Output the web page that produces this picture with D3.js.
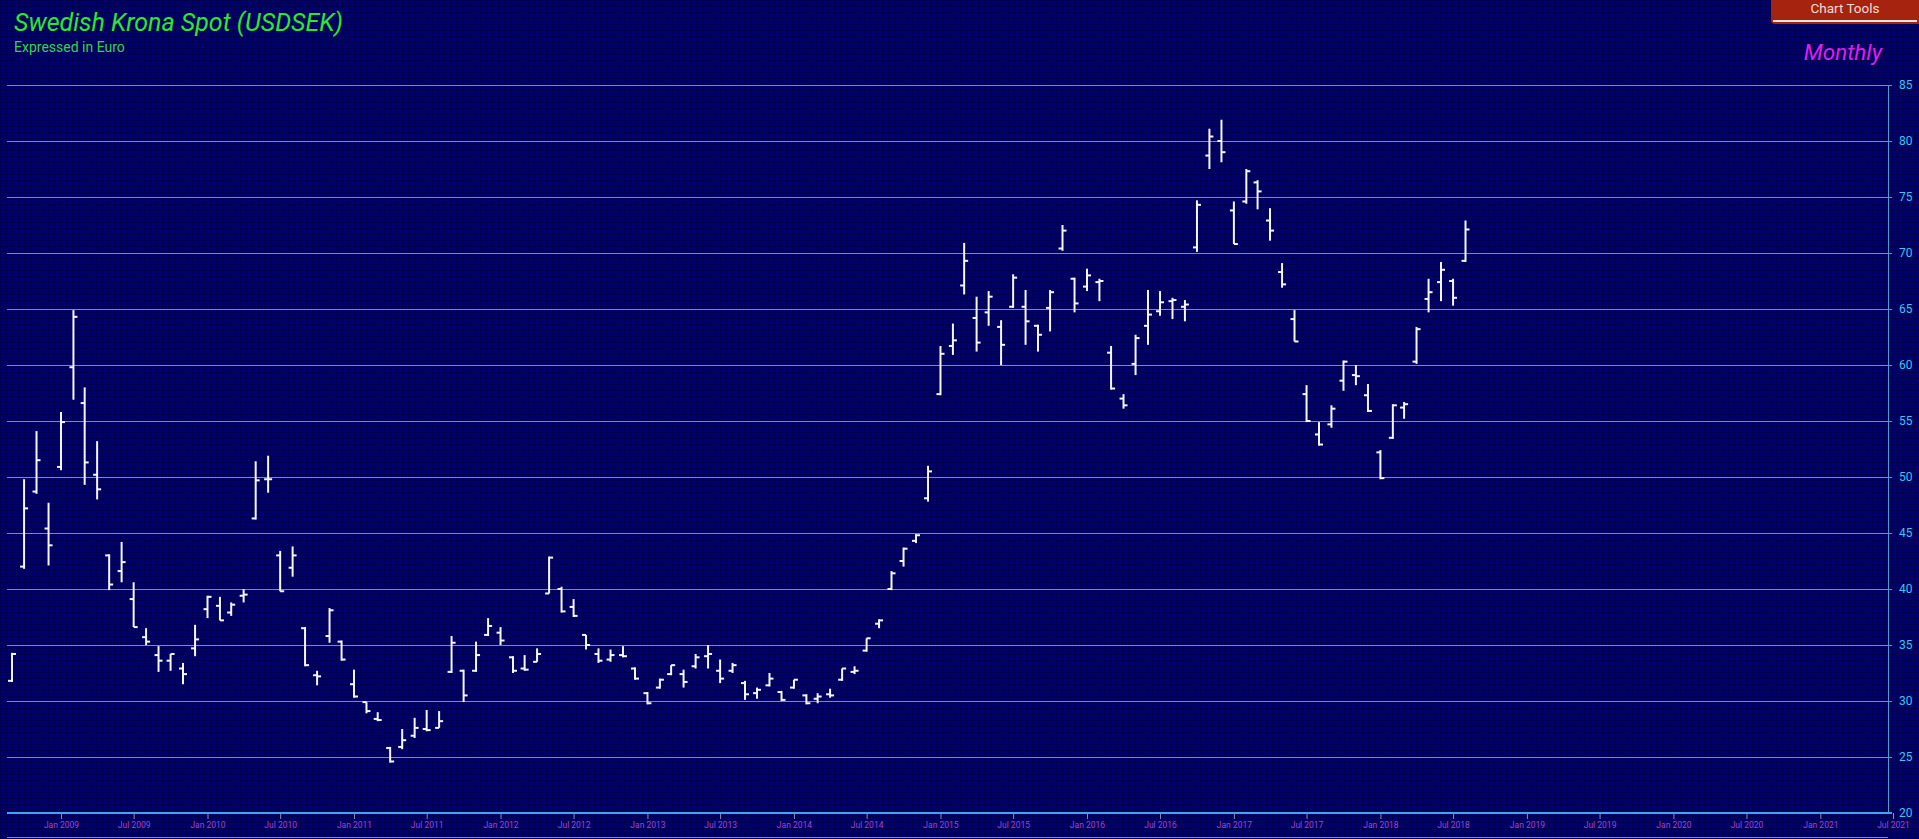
<!DOCTYPE html>
<html><head><meta charset="utf-8">
<script src="https://cdn.jsdelivr.net/npm/d3@7"></script>
<style>html,body{margin:0;padding:0;background:#00005e;overflow:hidden}svg{display:block}</style>
</head><body><svg id="c" width="1919" height="839"></svg>
<script>
const months = ["2008-09","2008-10","2008-11","2008-12",
"2009-01","2009-02","2009-03","2009-04","2009-05","2009-06","2009-07","2009-08","2009-09","2009-10","2009-11","2009-12",
"2010-01","2010-02","2010-03","2010-04","2010-05","2010-06","2010-07","2010-08","2010-09","2010-10","2010-11","2010-12",
"2011-01","2011-02","2011-03","2011-04","2011-05","2011-06","2011-07","2011-08","2011-09","2011-10","2011-11","2011-12",
"2012-01","2012-02","2012-03","2012-04","2012-05","2012-06","2012-07","2012-08","2012-09","2012-10","2012-11","2012-12",
"2013-01","2013-02","2013-03","2013-04","2013-05","2013-06","2013-07","2013-08","2013-09","2013-10","2013-11","2013-12",
"2014-01","2014-02","2014-03","2014-04","2014-05","2014-06","2014-07","2014-08","2014-09","2014-10","2014-11","2014-12",
"2015-01","2015-02","2015-03","2015-04","2015-05","2015-06","2015-07","2015-08","2015-09","2015-10","2015-11","2015-12",
"2016-01","2016-02","2016-03","2016-04","2016-05","2016-06","2016-07","2016-08","2016-09","2016-10","2016-11","2016-12",
"2017-01","2017-02","2017-03","2017-04","2017-05","2017-06","2017-07","2017-08","2017-09","2017-10","2017-11","2017-12",
"2018-01","2018-02","2018-03","2018-04","2018-05","2018-06","2018-07","2018-08"];
const openV = [31.8,42.0,48.7,45.4,
50.9,59.8,56.6,50.2,43.0,41.6,39.1,35.7,34.1,33.6,32.9,34.7,
38.2,38.5,37.9,39.4,46.3,49.8,43.0,41.9,36.5,32.3,35.8,35.3,
31.5,29.9,28.4,25.8,25.9,26.9,27.5,27.6,32.6,32.7,32.7,35.9,
36.1,33.9,32.9,33.5,39.6,40.0,38.4,35.9,34.2,33.7,34.1,32.9,
30.7,31.2,32.4,32.4,33.1,34.0,32.7,32.7,31.6,30.7,31.4,30.8,
31.2,30.5,30.2,30.6,31.9,32.6,34.5,36.9,40.0,42.5,44.3,48.1,
57.4,61.7,67.1,64.2,64.7,63.4,65.2,65.2,63.5,65.1,70.4,67.7,
67.0,67.4,61.1,57.0,60.1,63.5,64.8,65.7,65.2,70.5,78.7,80.0,
73.8,74.6,76.3,72.9,68.3,64.1,57.4,53.8,54.7,58.6,59.1,57.3,
52.2,53.5,56.2,60.3,65.9,67.4,67.5,69.3];
const highV = [34.3,49.8,54.1,47.7,
55.8,64.9,58.0,53.2,43.1,44.2,40.6,36.5,34.9,34.2,33.4,36.8,
39.4,39.3,38.8,40.0,51.4,51.9,43.4,43.8,36.6,32.7,38.3,35.4,
32.8,29.9,29.0,25.9,27.5,28.5,29.2,29.1,35.8,32.8,35.3,37.4,
36.6,34.0,34.1,34.7,42.9,40.2,39.1,35.9,34.7,34.6,34.9,33.0,
30.8,32.0,33.2,32.8,34.2,35.0,33.7,33.4,31.8,31.2,32.5,30.9,
31.9,30.6,30.7,31.1,32.9,33.1,35.6,37.3,41.6,43.7,44.9,51.0,
61.7,63.7,70.9,66.1,66.6,64.0,68.1,66.7,63.6,66.7,72.5,67.8,
68.6,67.7,61.7,57.4,62.7,66.7,66.6,66.0,65.8,74.7,81.1,81.9,
74.6,77.5,76.5,74.0,69.1,64.9,58.2,54.9,56.4,60.4,60.0,58.3,
52.4,56.5,56.7,63.4,67.7,69.2,67.7,72.9];
const lowV = [31.7,41.8,48.5,42.1,
50.6,56.9,49.3,48.0,39.9,40.6,36.6,35.0,32.6,32.7,31.5,34.0,
37.4,37.2,37.6,38.8,46.2,48.6,39.8,41.1,33.1,31.4,35.2,33.6,
30.3,28.9,28.2,24.5,25.7,26.7,27.3,27.6,32.5,29.9,32.6,35.8,
35.0,32.5,32.7,33.5,39.6,37.9,37.5,34.6,33.4,33.5,33.9,31.9,
29.7,31.1,32.3,31.2,32.9,32.9,31.6,32.5,30.1,30.2,31.3,30.0,
31.1,29.7,29.8,30.3,31.8,32.4,34.4,36.5,39.9,42.0,44.1,47.8,
57.3,60.9,66.3,61.2,63.5,60.0,65.1,61.8,61.2,63.0,70.2,64.7,
66.6,65.7,57.8,56.1,59.1,61.8,64.4,64.1,63.9,70.1,77.5,78.1,
70.8,74.4,73.9,71.1,66.9,62.1,54.9,52.8,54.4,57.7,58.2,55.8,
49.8,53.4,55.2,60.1,64.7,65.7,65.3,69.2];
const closeV = [34.2,47.2,51.5,43.9,
54.9,64.3,51.3,48.9,40.4,42.4,36.6,35.3,33.6,34.2,32.4,35.5,
39.3,37.2,38.6,39.5,49.7,49.8,39.8,43.0,33.2,32.2,38.1,33.7,
30.4,29.1,28.3,24.6,26.5,27.6,27.4,28.2,35.2,30.5,34.1,36.7,
35.4,32.7,32.8,34.2,42.8,38.0,37.6,35.0,33.6,34.1,34.0,32.0,
29.8,31.9,33.2,31.7,33.9,34.2,32.0,33.2,30.6,31.0,32.0,30.1,
31.9,29.8,30.4,30.5,32.9,32.7,35.6,37.2,41.4,43.6,44.8,50.5,
61.0,62.2,69.3,62.0,66.1,61.8,67.8,63.9,62.7,66.5,72.0,65.5,
68.0,67.5,57.9,56.4,62.4,64.5,65.6,65.8,65.4,74.3,80.4,79.0,
70.8,77.3,75.5,72.0,67.2,62.1,55.0,52.9,56.1,60.3,59.0,55.9,
49.9,56.4,56.5,63.2,66.5,68.5,66.0,72.1];
const yTicks = [20,25,30,35,40,45,50,55,60,65,70,75,80,85];
const xTickMonths = ["2009-01","2009-07","2010-01","2010-07","2011-01","2011-07","2012-01","2012-07","2013-01","2013-07","2014-01","2014-07","2015-01","2015-07","2016-01","2016-07","2017-01","2017-07","2018-01","2018-07","2019-01","2019-07","2020-01","2020-07","2021-01","2021-07"];

const parseM = d3.utcParse("%Y-%m");
const svg = d3.select("#c");
const W = 1919, H = 839;

// background pattern
const defs = svg.append("defs");
const pat = defs.append("pattern").attr("id","bgp").attr("width",3).attr("height",3).attr("patternUnits","userSpaceOnUse");
pat.append("rect").attr("width",3).attr("height",3).attr("fill","#00006e");
pat.append("rect").attr("width",3).attr("height",1).attr("fill","#000052");
pat.append("rect").attr("width",1).attr("height",3).attr("fill","#000052");
svg.append("rect").attr("width",W).attr("height",H).attr("fill","url(#bgp)");

const x = d3.scaleUtc().domain([parseM("2009-01"), parseM("2021-07")]).range([61, 1893]);
const y = d3.scaleLinear().domain([20, 85]).range([813, 85]);
const gridLeft = 7, axisX = 1888;

// gridlines
svg.append("g").selectAll("line").data(yTicks).join("line")
  .attr("x1", gridLeft).attr("x2", axisX + 4)
  .attr("y1", d => y(d)).attr("y2", d => y(d))
  .attr("stroke", d => d === 20 ? "#3ea6ee" : "#4e9bd4")
  .attr("stroke-width", d => d === 20 ? 2 : 1)
  .attr("shape-rendering","crispEdges");

// y axis
const yAxis = svg.append("g").attr("transform", `translate(${axisX},0)`)
  .call(d3.axisRight(y).tickValues(yTicks).tickSize(4).tickPadding(7).tickFormat(d3.format("d")));
yAxis.select(".domain").attr("stroke","#4e9bd4").attr("d", `M0.5,${y(85)}V${y(20)}`);
yAxis.selectAll(".tick line").attr("stroke","#4e9bd4");
yAxis.selectAll("text").attr("fill","#39c6f0").attr("font-family","Roboto").attr("font-size",12);

// x axis
const xAxis = svg.append("g").attr("transform", `translate(0,${y(20)})`)
  .call(d3.axisBottom(x).tickValues(xTickMonths.map(parseM)).tickSize(6).tickPadding(3).tickFormat(d3.utcFormat("%b %Y")));
xAxis.select(".domain").remove();
xAxis.selectAll(".tick line").attr("stroke","#8a8ab0");
xAxis.selectAll("text").attr("fill","#a046d2").attr("font-family","Roboto").attr("font-size",8.5);

// bottom scrollbar line
svg.append("line").attr("x1", gridLeft).attr("x2", axisX).attr("y1", 837.5).attr("y2", 837.5)
  .attr("stroke","#8c8ca8").attr("stroke-width",1);

// OHLC bars
const bars = months.map((m,i) => ({d: parseM(m), o: openV[i], h: highV[i], l: lowV[i], c: closeV[i]}));
const g = svg.append("g").attr("stroke","#f6f6ff").attr("stroke-width",2);
const bg = g.selectAll("g").data(bars).join("g");
bg.append("line").attr("x1", d => x(d.d)).attr("x2", d => x(d.d)).attr("y1", d => y(d.h)).attr("y2", d => y(d.l));
bg.append("line").attr("x1", d => x(d.d) - 4).attr("x2", d => x(d.d)).attr("y1", d => y(d.o)).attr("y2", d => y(d.o));
bg.append("line").attr("x1", d => x(d.d)).attr("x2", d => x(d.d) + 4).attr("y1", d => y(d.c)).attr("y2", d => y(d.c));

// titles
svg.append("text").attr("x",14).attr("y",31).attr("font-family","Roboto").attr("font-style","italic")
  .attr("font-size",25).attr("fill","#2be82b").text("Swedish Krona Spot (USDSEK)");
svg.append("text").attr("x",14).attr("y",52).attr("font-family","Roboto")
  .attr("font-size",14).attr("fill","#33d44a").text("Expressed in Euro");
svg.append("text").attr("x",1882).attr("y",60).attr("text-anchor","end").attr("font-family","Roboto").attr("font-style","italic")
  .attr("font-size",22.5).attr("fill","#e21fe8").text("Monthly");

// Chart Tools button
svg.append("path").attr("d","M1771,0H1919V24H1775Q1771,24 1771,20Z").attr("fill","#a5230f");
svg.append("line").attr("x1",1773).attr("x2",1917).attr("y1",21).attr("y2",21).attr("stroke","#f2e6e4").attr("stroke-width",2);
svg.append("text").attr("x",1845).attr("y",13).attr("text-anchor","middle").attr("font-family","Roboto")
  .attr("font-size",13.5).attr("fill","#f6dcd6").text("Chart Tools");
</script>
</body></html>
